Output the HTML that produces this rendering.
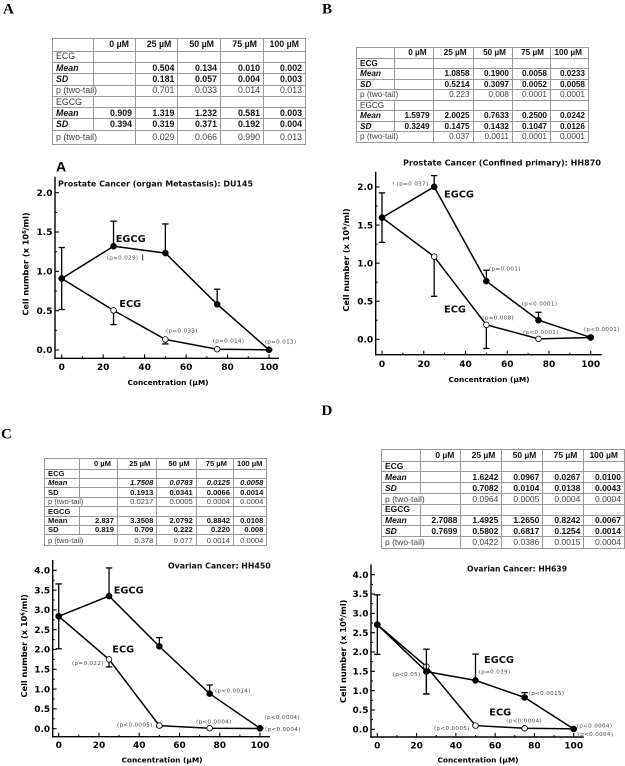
<!DOCTYPE html>
<html lang="en">
<head>
<meta charset="utf-8">
<title>Cell number vs concentration for four cancer cell lines</title>
<style>
html,body{margin:0;padding:0;background:#fff;}
#page{position:relative;width:625px;height:766px;overflow:hidden;background:#fff;filter:blur(0.3px);}
#charts{position:absolute;left:0;top:0;}
table{position:absolute;border-collapse:collapse;table-layout:fixed;font-family:"Liberation Sans",sans-serif;color:#111;border:1px solid #999;}
td{border:1px solid #999;padding:0 3px 0 3px;text-align:right;white-space:nowrap;overflow:visible;line-height:1;vertical-align:middle;font-weight:bold;}
td.l{text-align:left;}
td.li{text-align:left;font-style:italic;}
td.it{font-style:italic;}
tr.p td{font-weight:normal;color:#444;}
td.n{font-weight:normal;color:#333;}
tr.h td{padding-right:6px;}
#table-a{left:52px;top:38px;width:253px;font-size:8.8px;}
#table-a tr{height:11.3px;} #table-a tr.h{height:12.7px;} #table-a tr.e{height:14px;}
#table-b{left:356px;top:47px;width:232px;font-size:8.2px;}
#table-b tr{height:10.5px;} #table-b tr.h{height:10.9px;}
#table-c{left:44px;top:458px;width:222px;font-size:7.6px;}
#table-c tr{height:9.4px;} #table-c tr.h{height:10.6px;} #table-c tr.e{height:11px;}
#table-d{left:381px;top:449px;width:243px;font-size:8.5px;}
#table-d tr{height:10.8px;} #table-d tr.h{height:11.6px;} #table-d tr.e{height:11.6px;}
text{font-family:"DejaVu Sans",sans-serif;}
.letter{font-family:"Liberation Serif",serif;font-weight:bold;font-size:15px;fill:#000;}
.sub{font-family:"Liberation Sans",sans-serif;font-weight:bold;font-size:14px;fill:#000;}
.title{font-weight:bold;font-size:8.2px;fill:#111;}
.axt{font-weight:bold;font-size:7.4px;fill:#000;}
.axy{font-weight:bold;font-size:8.2px;fill:#000;}
.ser{font-weight:bold;font-size:9.8px;fill:#111;}
.pv{font-size:5.6px;fill:#444;letter-spacing:.35px;}
.tick{font-weight:bold;font-size:9px;fill:#000;}
</style>
</head>
<body>
<div id="page">

<table id="table-a">
<colgroup><col style="width:41px"><col style="width:42px"><col style="width:42.4px"><col style="width:42.6px"><col style="width:43px"><col style="width:42px"></colgroup>
<tr class="h"><td></td><td>0 µM</td><td>25 µM</td><td>50 µM</td><td>75 µM</td><td>100 µM</td></tr>
<tr><td class="l n">ECG</td><td></td><td></td><td></td><td></td><td></td></tr>
<tr><td class="li">Mean</td><td></td><td>0.504</td><td>0.134</td><td>0.010</td><td>0.002</td></tr>
<tr><td class="li">SD</td><td></td><td>0.181</td><td>0.057</td><td>0.004</td><td>0.003</td></tr>
<tr class="p"><td class="l" colspan="2">p (two-tail)</td><td>0.701</td><td>0.033</td><td>0.014</td><td>0.013</td></tr>
<tr><td class="l n">EGCG</td><td></td><td></td><td></td><td></td><td></td></tr>
<tr><td class="li">Mean</td><td>0.909</td><td>1.319</td><td>1.232</td><td>0.581</td><td>0.003</td></tr>
<tr><td class="li">SD</td><td>0.394</td><td>0.319</td><td>0.371</td><td>0.192</td><td>0.004</td></tr>
<tr class="p e"><td class="l" colspan="2">p (two-tail)</td><td>0.029</td><td>0.066</td><td>0.990</td><td>0.013</td></tr>
</table>

<table id="table-b">
<colgroup><col style="width:38px"><col style="width:38.6px"><col style="width:40px"><col style="width:39.4px"><col style="width:38px"><col style="width:38px"></colgroup>
<tr class="h"><td></td><td>0 µM</td><td>25 µM</td><td>50 µM</td><td>75 µM</td><td>100 µM</td></tr>
<tr><td class="l">ECG</td><td></td><td></td><td></td><td></td><td></td></tr>
<tr><td class="li">Mean</td><td></td><td>1.0858</td><td>0.1900</td><td>0.0058</td><td>0.0233</td></tr>
<tr><td class="li">SD</td><td></td><td>0.5214</td><td>0.3097</td><td>0.0052</td><td>0.0058</td></tr>
<tr class="p"><td class="l" colspan="2">p (two-tail)</td><td>0.223</td><td>0.008</td><td>0.0001</td><td>0.0001</td></tr>
<tr><td class="l n">EGCG</td><td></td><td></td><td></td><td></td><td></td></tr>
<tr><td class="li">Mean</td><td>1.5979</td><td>2.0025</td><td>0.7633</td><td>0.2500</td><td>0.0242</td></tr>
<tr><td class="li">SD</td><td>0.3249</td><td>0.1475</td><td>0.1432</td><td>0.1047</td><td>0.0126</td></tr>
<tr class="p"><td class="l" colspan="2">p (two-tail)</td><td>0.037</td><td>0.0011</td><td>0.0001</td><td>0.0001</td></tr>
</table>

<table id="table-c">
<colgroup><col style="width:35px"><col style="width:38px"><col style="width:39.4px"><col style="width:39.3px"><col style="width:37.3px"><col style="width:33.4px"></colgroup>
<tr class="h"><td></td><td>0 µM</td><td>25 µM</td><td>50 µM</td><td>75 µM</td><td>100 µM</td></tr>
<tr><td class="l">ECG</td><td></td><td></td><td></td><td></td><td></td></tr>
<tr><td class="li">Mean</td><td></td><td class="it">1.7508</td><td class="it">0.0783</td><td class="it">0.0125</td><td class="it">0.0058</td></tr>
<tr><td class="l">SD</td><td></td><td>0.1913</td><td>0.0341</td><td>0.0066</td><td>0.0014</td></tr>
<tr class="p"><td class="l" colspan="2">p (two-tail)</td><td>0.0217</td><td>0.0005</td><td>0.0004</td><td>0.0004</td></tr>
<tr><td class="l">EGCG</td><td></td><td></td><td></td><td></td><td></td></tr>
<tr><td class="l">Mean</td><td>2.837</td><td>3.3508</td><td>2.0792</td><td>0.8842</td><td>0.0108</td></tr>
<tr><td class="l">SD</td><td>0.819</td><td>0.709</td><td>0.222</td><td>0.220</td><td>0.008</td></tr>
<tr class="p e"><td class="l" colspan="2">p (two-tail)</td><td>0.378</td><td>0.077</td><td>0.0014</td><td>0.0004</td></tr>
</table>

<table id="table-d">
<colgroup><col style="width:39.4px"><col style="width:40px"><col style="width:41px"><col style="width:41px"><col style="width:41px"><col style="width:40.6px"></colgroup>
<tr class="h"><td></td><td>0 µM</td><td>25 µM</td><td>50 µM</td><td>75 µM</td><td>100 µM</td></tr>
<tr><td class="l">ECG</td><td></td><td></td><td></td><td></td><td></td></tr>
<tr><td class="li">Mean</td><td></td><td>1.6242</td><td>0.0967</td><td>0.0267</td><td>0.0100</td></tr>
<tr><td class="li">SD</td><td></td><td>0.7082</td><td>0.0104</td><td>0.0138</td><td>0.0043</td></tr>
<tr class="p"><td class="l" colspan="2">p (two-tail)</td><td>0.0964</td><td>0.0005</td><td>0.0004</td><td>0.0004</td></tr>
<tr><td class="l">EGCG</td><td></td><td></td><td></td><td></td><td></td></tr>
<tr><td class="li">Mean</td><td>2.7088</td><td>1.4925</td><td>1.2650</td><td>0.8242</td><td>0.0067</td></tr>
<tr><td class="li">SD</td><td>0.7699</td><td>0.5802</td><td>0.6817</td><td>0.1254</td><td>0.0014</td></tr>
<tr class="p e"><td class="l" colspan="2">p (two-tail)</td><td>0.0422</td><td>0.0386</td><td>0.0015</td><td>0.0004</td></tr>
</table>

<svg id="charts" width="625" height="766" viewBox="0 0 625 766" xmlns="http://www.w3.org/2000/svg">
  <text class="letter" x="3" y="13.5">A</text>
  <text class="letter" x="322" y="13.5">B</text>
  <text class="letter" x="1" y="438.5">C</text>
  <text class="letter" x="321.5" y="415">D</text>
  <text class="sub" x="56" y="171.7">A</text>

  <g id="chart-a"></g>
  <g id="chart-b"></g>
  <g id="chart-c"></g>
  <g id="chart-d"></g>

  <!-- Chart A labels -->
  <text class="title" x="58" y="186.6" textLength="195" lengthAdjust="spacingAndGlyphs">Prostate Cancer (organ Metastasis): DU145</text>
  <text class="axt" x="168" y="385" text-anchor="middle">Concentration (µM)</text>
  <text class="axy" transform="translate(28.5 264) rotate(-90)" text-anchor="middle">Cell number (x 10<tspan dy="-2.5" font-size="5">6</tspan><tspan dy="2.5">/ml)</tspan></text>
  <text class="ser" x="115.7" y="242">EGCG</text>
  <text class="ser" x="119.3" y="307">ECG</text>
  <text class="pv" x="106.7" y="259.3">(p=0.029)</text>
  <line x1="142.7" y1="254.5" x2="142.7" y2="260.5" stroke="#333" stroke-width="1"></line>
  <text class="pv" x="166" y="332.3">(p=0.033)</text>
  <text class="pv" x="212.7" y="342.7">(p=0.014)</text>
  <text class="pv" x="264.7" y="343.7">(p=0.013)</text>

  <!-- Chart B labels -->
  <text class="title" x="403" y="165.7" textLength="198" lengthAdjust="spacingAndGlyphs">Prostate Cancer (Confined primary): HH870</text>
  <text class="axt" x="489" y="382" text-anchor="middle">Concentration (µM)</text>
  <text class="axy" transform="translate(349 260) rotate(-90)" text-anchor="middle">Cell number (x 10<tspan dy="-2.5" font-size="5">6</tspan><tspan dy="2.5">/ml)</tspan></text>
  <text class="ser" x="444" y="197.7">EGCG</text>
  <text class="ser" x="444" y="312.3">ECG</text>
  <text class="pv" x="392" y="185.3">! (p=0.037)</text>
  <text class="pv" x="489" y="270.7">(p=0.001)</text>
  <text class="pv" x="521.7" y="305.7">(p&lt;0.0001)</text>
  <text class="pv" x="482.3" y="319.7">(p=0.008)</text>
  <text class="pv" x="523" y="334">(p&lt;0.0001)</text>
  <text class="pv" x="584" y="331">(p&lt;0.0001)</text>

  <!-- Chart C labels -->
  <text class="title" x="168" y="568.3" textLength="102.7" lengthAdjust="spacingAndGlyphs">Ovarian Cancer: HH450</text>
  <text class="axt" x="162" y="762.7" text-anchor="middle">Concentration (µM)</text>
  <text class="axy" transform="translate(27 645.8) rotate(-90)" text-anchor="middle">Cell number (x 10<tspan dy="-2.5" font-size="5">6</tspan><tspan dy="2.5">/ml)</tspan></text>
  <text class="ser" x="113.7" y="593.3">EGCG</text>
  <text class="ser" x="112.3" y="652.7">ECG</text>
  <text class="pv" x="72" y="665">(p=0.022)</text>
  <text class="pv" x="117" y="726.3">(p&lt;0.0005)</text>
  <text class="pv" x="196" y="723.3">(p&lt;0.0004)</text>
  <text class="pv" x="215" y="692.7">(p&lt;0.0014)</text>
  <text class="pv" x="264.3" y="719">(p&lt;0.0004)</text>
  <text class="pv" x="265" y="731">(p&lt;0.0004)</text>

  <!-- Chart D labels -->
  <text class="title" x="467" y="571.3" textLength="100" lengthAdjust="spacingAndGlyphs">Ovarian Cancer: HH639</text>
  <text class="axt" x="478" y="762.7" text-anchor="middle">Concentration (µM)</text>
  <text class="axy" transform="translate(346 651.3) rotate(-90)" text-anchor="middle">Cell number (x 10<tspan dy="-2.5" font-size="5">6</tspan><tspan dy="2.5">/ml)</tspan></text>
  <text class="ser" x="484" y="663">EGCG</text>
  <text class="ser" x="489.3" y="715.3">ECG</text>
  <text class="pv" x="392.7" y="676">(p&lt;0.05)</text>
  <text class="pv" x="478.7" y="673.3">(p=0.039)</text>
  <text class="pv" x="528.7" y="695">(p&lt;0.0015)</text>
  <text class="pv" x="506.3" y="722.7">(p&lt;0.0004)</text>
  <text class="pv" x="434" y="730">(p&lt;0.0005)</text>
  <text class="pv" x="576.7" y="727.3">(p&lt;0.0004)</text>
  <text class="pv" x="577.7" y="736">(p&lt;0.0004)</text>
</svg>
</div>

<script>
// Shared categories and tick labels
const concentrations = [0, 25, 50, 75, 100];
const xTicks = [0, 20, 40, 60, 80, 100];
const xTickLabels = ['0', '20', '40', '60', '80', '100'];
const yTicksShort = [0, 0.5, 1, 1.5, 2];
const yTickLabelsShort = ['0.0', '0.5', '1.0', '1.5', '2.0'];
const yTicksTall = [0, 0.5, 1, 1.5, 2, 2.5, 3, 3.5, 4];
const yTickLabelsTall = ['0.0', '0.5', '1.0', '1.5', '2.0', '2.5', '3.0', '3.5', '4.0'];

// Chart A: DU145
const aEcgMean = [0.909, 0.504, 0.134, 0.010, 0.002];
const aEcgErrDown = [0, 0.181, 0.057, 0.004, 0.003];
const aEgcgMean = [0.909, 1.319, 1.232, 0.581, 0.003];
const aEgcgErrUp = [0.394, 0.319, 0.371, 0.192, 0.004];
const aEgcgErrDown = [0.394, 0, 0, 0, 0];

// Chart B: HH870
const bEcgMean = [1.5979, 1.0858, 0.1900, 0.0058, 0.0233];
const bEcgErrDown = [0, 0.5214, 0.3097, 0.0052, 0.0058];
const bEgcgMean = [1.5979, 2.0025, 0.7633, 0.2500, 0.0242];
const bEgcgErrUp = [0.3249, 0.1475, 0.1432, 0.1047, 0.0126];
const bEgcgErrDown = [0.3249, 0, 0, 0, 0];

// Chart C: HH450
const cEcgMean = [2.837, 1.7508, 0.0783, 0.0125, 0.0058];
const cEcgErrDown = [0, 0.1913, 0.0341, 0.0066, 0.0014];
const cEgcgMean = [2.837, 3.3508, 2.0792, 0.8842, 0.0108];
const cEgcgErrUp = [0.819, 0.709, 0.222, 0.220, 0.008];
const cEgcgErrDown = [0.819, 0, 0, 0, 0];

// Chart D: HH639
const dEcgMean = [2.7088, 1.6242, 0.0967, 0.0267, 0.0100];
const dEcgErrDown = [0, 0.7082, 0.0104, 0.0138, 0.0043];
const dEgcgMean = [2.7088, 1.4925, 1.2650, 0.8242, 0.0067];
const dEgcgErrUp = [0.7699, 0.5802, 0.6817, 0.1254, 0.0014];
const dEgcgErrDown = [0.7699, 0.5802, 0, 0, 0];

const SVG_NS = 'http://www.w3.org/2000/svg';

function addLine(parent, name, x1, y1, x2, y2, width) {
  const el = document.createElementNS(SVG_NS, 'line');
  el.setAttribute('x1', x1);
  el.setAttribute('y1', y1);
  el.setAttribute('x2', x2);
  el.setAttribute('y2', y2);
  el.setAttribute('stroke', '#000');
  el.setAttribute('stroke-width', width);
  
  
  parent.appendChild(el);
}

function addLabel(parent, name, x, y, anchor, content) {
  const el = document.createElementNS(SVG_NS, 'text');
  el.setAttribute('class', 'tick');
  el.setAttribute('x', x);
  el.setAttribute('y', y);
  el.setAttribute('text-anchor', anchor);
  el.textContent = content;
  
  
  parent.appendChild(el);
}

function addSeriesLine(parent, name, points) {
  const el = document.createElementNS(SVG_NS, 'polyline');
  el.setAttribute('points', points);
  el.setAttribute('fill', 'none');
  el.setAttribute('stroke', '#000');
  el.setAttribute('stroke-width', 1.5);
  
  
  parent.appendChild(el);
}

function addMarker(parent, name, cx, cy, filled) {
  const el = document.createElementNS(SVG_NS, 'circle');
  el.setAttribute('cx', cx);
  el.setAttribute('cy', cy);
  el.setAttribute('r', filled ? 3.1 : 2.8);
  el.setAttribute('fill', filled ? '#000' : '#fff');
  el.setAttribute('stroke', '#000');
  el.setAttribute('stroke-width', filled ? 0.4 : 0.8);
  
  
  parent.appendChild(el);
}

function addErrorBar(parent, name, x, yFrom, yTo) {
  addLine(parent, name, x, yFrom, x, yTo, 1.3);
  addLine(parent, name + '-cap', x - 3.2, yTo, x + 3.2, yTo, 1.3);
}

function drawChart(id, box, yTicks, yLabels, ecgMean, ecgDown, egcgMean, egcgUp, egcgDown) {
  const g = document.getElementById(id);
  const sx = v => box.x0 + v * (box.x100 - box.x0) / 100;
  const sy = v => box.y0 + v * (box.yMax - box.y0) / yTicks[yTicks.length - 1];

  // axes
  addLine(g, id + '-y-axis', box.left, box.top, box.left, box.bottom + 0.7, 1.4);
  addLine(g, id + '-x-axis', box.left - 0.7, box.bottom, box.right, box.bottom, 1.4);

  // x ticks
  xTicks.forEach((t, i) => {
    addLine(g, id + '-x-tick', sx(t), box.bottom, sx(t), box.bottom - 4, 1.1);
    addLabel(g, id + '-x-tick-label', sx(t), box.xLabelY, 'middle', xTickLabels[i]);
    if (i < xTicks.length - 1) {
      const mid = (t + xTicks[i + 1]) / 2;
      addLine(g, id + '-x-minor-tick', sx(mid), box.bottom, sx(mid), box.bottom - 2, 1);
    }
  });

  // y ticks
  yTicks.forEach((t, i) => {
    addLine(g, id + '-y-tick', box.left, sy(t), box.left + 4, sy(t), 1.1);
    addLabel(g, id + '-y-tick-label', box.left - 2.5, sy(t) + 3.2, 'end', yLabels[i]);
    if (i < yTicks.length - 1) {
      const mid = (t + yTicks[i + 1]) / 2;
      addLine(g, id + '-y-minor-tick', box.left, sy(mid), box.left + 2, sy(mid), 1);
    }
  });

  // ECG series (open markers, downward error bars)
  concentrations.forEach((c, i) => {
    if (ecgDown[i] > 0) {
      addErrorBar(g, id + '-ecg-error-' + c, sx(c), sy(ecgMean[i]), sy(ecgMean[i] - ecgDown[i]));
    }
  });
  addSeriesLine(g, id + '-ecg-line', concentrations.map((c, i) => sx(c) + ',' + sy(ecgMean[i])).join(' '));
  concentrations.forEach((c, i) => {
    addMarker(g, id + '-ecg-point-' + c, sx(c), sy(ecgMean[i]), false);
  });

  // EGCG series (filled markers)
  concentrations.forEach((c, i) => {
    if (egcgUp[i] > 0) {
      addErrorBar(g, id + '-egcg-error-up-' + c, sx(c), sy(egcgMean[i]), sy(egcgMean[i] + egcgUp[i]));
    }
    if (egcgDown[i] > 0) {
      addErrorBar(g, id + '-egcg-error-down-' + c, sx(c), sy(egcgMean[i]), sy(egcgMean[i] - egcgDown[i]));
    }
  });
  addSeriesLine(g, id + '-egcg-line', concentrations.map((c, i) => sx(c) + ',' + sy(egcgMean[i])).join(' '));
  concentrations.forEach((c, i) => {
    addMarker(g, id + '-egcg-point-' + c, sx(c), sy(egcgMean[i]), true);
  });
}

drawChart('chart-a',
  {x0: 61.7, x100: 269, y0: 350, yMax: 192.7, left: 55, right: 279, top: 176.7, bottom: 358.3, xLabelY: 370},
  yTicksShort, yTickLabelsShort, aEcgMean, aEcgErrDown, aEgcgMean, aEgcgErrUp, aEgcgErrDown);
drawChart('chart-b',
  {x0: 382, x100: 590.7, y0: 339.3, yMax: 187, left: 375.7, right: 601.7, top: 171.7, bottom: 354.7, xLabelY: 367},
  yTicksShort, yTickLabelsShort, bEcgMean, bEcgErrDown, bEgcgMean, bEgcgErrUp, bEgcgErrDown);
drawChart('chart-c',
  {x0: 58.7, x100: 260, y0: 728.7, yMax: 570.3, left: 52.7, right: 270, top: 560, bottom: 736.7, xLabelY: 748},
  yTicksTall, yTickLabelsTall, cEcgMean, cEcgErrDown, cEgcgMean, cEgcgErrUp, cEgcgErrDown);
drawChart('chart-d',
  {x0: 377.3, x100: 573.7, y0: 729.3, yMax: 574.7, left: 371, right: 583.7, top: 564.3, bottom: 737, xLabelY: 748.5},
  yTicksTall, yTickLabelsTall, dEcgMean, dEcgErrDown, dEgcgMean, dEgcgErrUp, dEgcgErrDown);
</script>
</body>
</html>
